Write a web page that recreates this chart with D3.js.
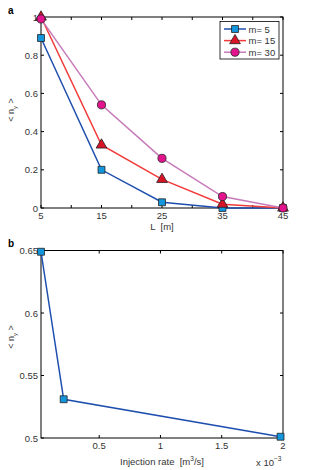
<!DOCTYPE html>
<html>
<head>
<meta charset="utf-8">
<script src="https://cdn.jsdelivr.net/npm/d3@7"></script>
<style>
  body { margin: 0; background: #fff; }
  text { font-family: "Liberation Sans", Arial, sans-serif; }
</style>
</head>
<body>
<div id="chart"></div>
<script>
// panel a
var lengths = [5, 15, 25, 35, 45];
var m5 = [0.89, 0.20, 0.03, 0.0, 0.0];
var m15 = [1.0, 0.33, 0.15, 0.02, 0.0];
var m30 = [0.99, 0.54, 0.26, 0.06, 0.0];
var seriesNames = ["m= 5", "m= 15", "m= 30"];
var xTicksA = [5, 10, 15, 20, 25, 30, 35, 40, 45];
var xLabelsA = [5, 15, 25, 35, 45];
var yTicksA = [0, 0.2, 0.4, 0.6, 0.8, 1];

// panel b
var rates = [0.025, 0.21, 1.98]; // x 10^-3
var nyB = [0.649, 0.531, 0.501];
var xTicksB = [0.5, 1, 1.5, 2];
var yTicksB = [0.5, 0.55, 0.6, 0.65];

var W = 313, H = 470;
var svg = d3.select("#chart").append("svg").attr("width", W).attr("height", H);

var styles = [
  { line: "#1f4fae", fill: "#1496dc", shape: d3.symbolSquare, size: 48 },
  { line: "#f23a3a", fill: "#d81426", shape: d3.symbolTriangle, size: 50 },
  { line: "#c77ab8", fill: "#e2138c", shape: d3.symbolCircle, size: 52 }
];

function frame(g, x, y, xt, yt, xlab, fmtX, fmtY) {
  var x0 = x.range()[0], x1 = x.range()[1], y0 = y.range()[0], y1 = y.range()[1];
  g.append("rect").attr("x", x0).attr("y", y1).attr("width", x1 - x0).attr("height", y0 - y1)
    .attr("fill", "none").attr("stroke", "#000").attr("stroke-width", 1);
  // inward ticks all four sides
  xt.forEach(function(t) {
    var px = x(t);
    g.append("line").attr("x1", px).attr("x2", px).attr("y1", y0).attr("y2", y0 - 3).attr("stroke", "#000");
    g.append("line").attr("x1", px).attr("x2", px).attr("y1", y1).attr("y2", y1 + 3).attr("stroke", "#000");
  });
  yt.forEach(function(t) {
    var py = y(t);
    g.append("line").attr("x1", x0).attr("x2", x0 + 3).attr("y1", py).attr("y2", py).attr("stroke", "#000");
    g.append("line").attr("x1", x1).attr("x2", x1 - 3).attr("y1", py).attr("y2", py).attr("stroke", "#000");
  });
  xlab.forEach(function(t) {
    g.append("text").attr("x", x(t)).attr("y", y0 + 11).attr("text-anchor", "middle")
      .attr("font-size", 9.5).attr("fill", "#333").text(fmtX(t));
  });
  yt.forEach(function(t) {
    g.append("text").attr("x", x0 - 3).attr("y", y(t) + 3.5).attr("text-anchor", "end")
      .attr("font-size", 9.5).attr("fill", "#333").text(fmtY(t));
  });
}

function yLabel(g, cx, cy) {
  var t = g.append("text").attr("transform", "translate(" + cx + "," + cy + ") rotate(-90)")
    .attr("text-anchor", "middle").attr("font-size", 9).attr("fill", "#333");
  t.append("tspan").text("< n");
  t.append("tspan").attr("font-size", 6).attr("dy", 3).text("y");
  t.append("tspan").attr("dy", -3).text(" >");
}

// ---- panel a ----
var ga = svg.append("g");
var xa = d3.scaleLinear().domain([5, 45]).range([41, 283]);
var ya = d3.scaleLinear().domain([0, 1]).range([208, 17]);
frame(ga, xa, ya, xTicksA, yTicksA, xLabelsA, d3.format("d"), function(v) { return v === 0 || v === 1 ? String(v) : d3.format(".1f")(v); });
ga.append("text").attr("x", 8).attr("y", 14).attr("font-size", 10).attr("font-weight", "bold").text("a");
ga.append("text").attr("x", 162).attr("y", 230).attr("text-anchor", "middle").attr("font-size", 9.5)
  .attr("fill", "#333").attr("xml:space", "preserve").text("L  [m]");
yLabel(ga, 14, 110);

var seriesA = [m5, m15, m30];
var lineA = d3.line().x(function(d, i) { return xa(lengths[i]); }).y(function(d) { return ya(d); });
seriesA.forEach(function(s, k) {
  ga.append("path").attr("d", lineA(s)).attr("fill", "none").attr("stroke", styles[k].line).attr("stroke-width", 1.5);
});
seriesA.forEach(function(s, k) {
  s.forEach(function(v, i) {
    ga.append("path").attr("d", d3.symbol().type(styles[k].shape).size(styles[k].size)())
      .attr("transform", "translate(" + xa(lengths[i]) + "," + ya(v) + ")")
      .attr("fill", styles[k].fill).attr("stroke", "#222").attr("stroke-width", 0.8);
  });
});

// legend
var lg = ga.append("g");
lg.append("rect").attr("x", 220).attr("y", 21.5).attr("width", 59).attr("height", 37.5)
  .attr("fill", "#fff").attr("stroke", "#000").attr("stroke-width", 0.8);
seriesNames.forEach(function(n, k) {
  var ly = 29 + k * 11.6;
  lg.append("line").attr("x1", 224).attr("x2", 246).attr("y1", ly).attr("y2", ly)
    .attr("stroke", styles[k].line).attr("stroke-width", 1.5);
  lg.append("path").attr("d", d3.symbol().type(styles[k].shape).size(styles[k].size)())
    .attr("transform", "translate(235," + ly + ")")
    .attr("fill", styles[k].fill).attr("stroke", "#222").attr("stroke-width", 0.8);
  lg.append("text").attr("x", 248.5).attr("y", ly + 3.5).attr("font-size", 9.5).attr("fill", "#333").text(n);
});

// ---- panel b ----
var gb = svg.append("g");
var xb = d3.scaleLinear().domain([0.025, 2.0]).range([41, 283]);
var yb = d3.scaleLinear().domain([0.5, 0.65]).range([438, 250.5]);
frame(gb, xb, yb, xTicksB, yTicksB, xTicksB, function(v) { return String(v); }, function(v) { return String(v); });
gb.append("text").attr("x", 8).attr("y", 247).attr("font-size", 10).attr("font-weight", "bold").text("b");
var xl = gb.append("text").attr("x", 162).attr("y", 465).attr("text-anchor", "middle").attr("font-size", 9.5)
  .attr("fill", "#333").attr("xml:space", "preserve");
xl.append("tspan").text("Injection rate  [m");
xl.append("tspan").attr("font-size", 6.5).attr("dy", -4).text("3");
xl.append("tspan").attr("dy", 4).text("/s]");
var ex = gb.append("text").attr("x", 256).attr("y", 466).attr("font-size", 9.5).attr("fill", "#333");
ex.append("tspan").text("x 10");
ex.append("tspan").attr("font-size", 6.5).attr("dy", -5).text("−3");
yLabel(gb, 14, 337);

var lineB = d3.line().x(function(d, i) { return xb(rates[i]); }).y(function(d) { return yb(d); });
gb.append("path").attr("d", lineB(nyB)).attr("fill", "none").attr("stroke", styles[0].line).attr("stroke-width", 1.5);
nyB.forEach(function(v, i) {
  gb.append("path").attr("d", d3.symbol().type(d3.symbolSquare).size(48)())
    .attr("transform", "translate(" + xb(rates[i]) + "," + yb(v) + ")")
    .attr("fill", styles[0].fill).attr("stroke", "#222").attr("stroke-width", 0.8);
});
</script>
</body>
</html>
